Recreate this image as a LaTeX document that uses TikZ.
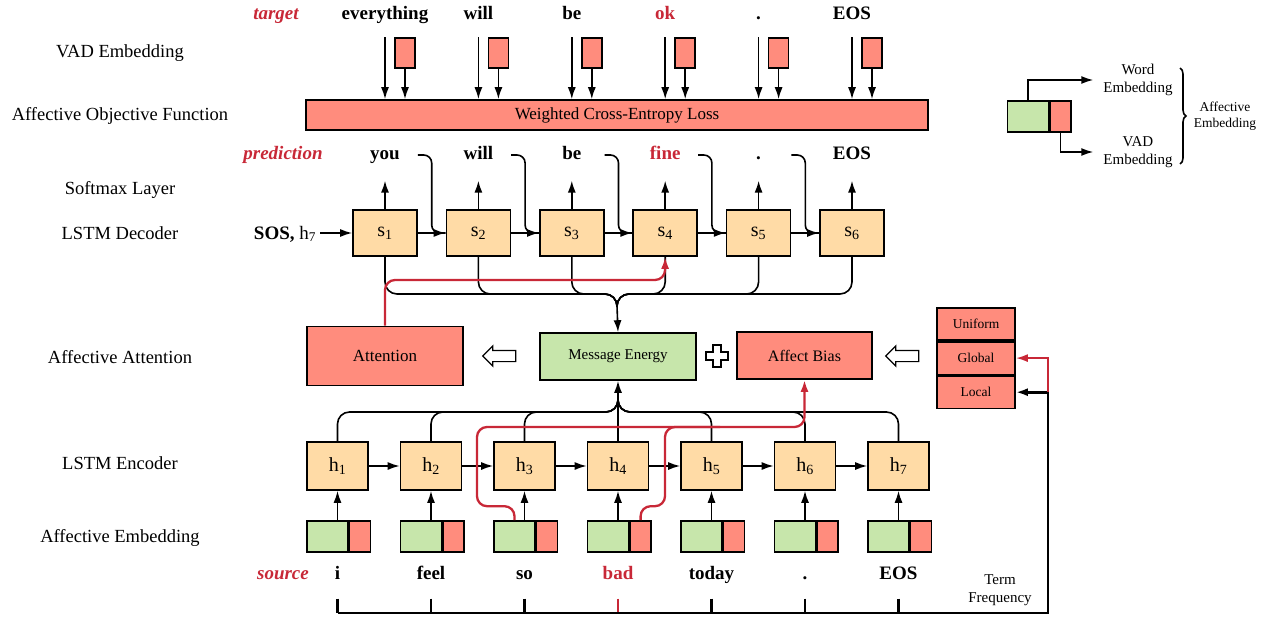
\documentclass[tikz,border=0pt]{standalone}
\usepackage{fontspec}
\setmainfont{Liberation Serif}
\usetikzlibrary{arrows.meta}
\usetikzlibrary{positioning}
\usetikzlibrary{calc}
\usetikzlibrary{shapes.arrows}
\usetikzlibrary{decorations.pathreplacing}

\tikzset{
    layer/.style={font=\fontsize{18.5}{20}\selectfont},
    tok/.style={font=\fontsize{19}{20}\selectfont\bfseries, text height=13pt, text depth=4pt},
    tag/.style={tok, font=\fontsize{19}{20}\selectfont\bfseries\itshape, text=crimson},
    cell/.style={draw, fill=peach, minimum width=61pt, minimum height=48pt, font=\fontsize{20}{22}\selectfont},
    vadbox/.style={draw, fill=salmon, minimum width=20pt, minimum height=30pt, inner sep=0pt},
    wordpart/.style={draw, fill=leaf, minimum width=41pt, minimum height=31pt, inner sep=0pt},
    vadpart/.style={draw, fill=salmon, minimum width=21pt, minimum height=31pt, inner sep=0pt},
    block/.style={draw, inner sep=0pt},
    scheme/.style={block, fill=salmon, minimum width=78pt, minimum height=32.5pt, font=\fontsize{13.5}{16}\selectfont},
    note/.style={align=center, font=\fontsize{15}{18}\selectfont},
    hollow/.style={single arrow, draw, fill=white, line width=1.2pt, minimum height=33pt,
        inner xsep=0pt, inner ysep=5pt, single arrow head extend=4.5pt, shape border rotate=180},
    bus/.style={rounded corners=12pt},
    redpath/.style={crimson, line width=2.3pt, rounded corners=10pt},
}

\begin{document}
\begin{tikzpicture}[x=1pt, y=-1pt, line width=1.6pt, >={Latex[length=12pt,width=8pt]}]
    % colours
    \definecolor{salmon}{RGB}{255,140,125}
    \definecolor{leaf}{RGB}{199,230,171}
    \definecolor{peach}{RGB}{255,219,166}
    \definecolor{crimson}{RGB}{200,40,55}

    \useasboundingbox (0,0) rectangle (1270,618);

    % layer names
    \node[layer] (lvad)  at (120,53.5)  {VAD Embedding};
    \node[layer] (lobj)  at (120,116) {Affective Objective Function};
    \node[layer] (lsoft) at (120,189.5) {Softmax Layer};
    \node[layer] (ldec)  at (120,233) {LSTM Decoder};
    \node[layer] (latt)  at (120,357) {Affective Attention};
    \node[layer] (lenc)  at (120,463) {LSTM Encoder};
    \node[layer] (lemb)  at (120,537.5) {Affective Embedding};

    % target and objective
    \node[tag] (target) at (276,15) {target};
    \node[block, fill=salmon, minimum width=622pt, minimum height=30pt,
          font=\fontsize{17}{20}\selectfont] (loss) at (617,115) {Weighted Cross-Entropy Loss};
    \foreach \w/\c [count=\i] in {everything/black, will/black, be/black, ok/crimson, ./black, EOS/black} {
        \pgfmathsetmacro{\x}{291.6+93.4*\i}
        \node[tok, text=\c] (t\i) at (\x,15) {\w};
        \node[vadbox] (v\i) at (\x+20,53) {};
        \draw[->] (v\i.north -| t\i) -- (t\i |- loss.north);
        \draw[->] (v\i.south) -- (v\i.south |- loss.north);
    }

    % decoder
    \node[tag] (pred) at (283,155) {prediction};
    \foreach \w/\c [count=\i] in {you/black, will/black, be/black, fine/crimson, ./black, EOS/black} {
        \pgfmathsetmacro{\x}{291.6+93.4*\i}
        \node[tok, text=\c] (p\i) at (\x,155) {\w};
        \node[cell, minimum width=64pt, minimum height=46pt] (s\i) at (\x,233) {s\textsubscript{\i}};
        \draw[->, shorten >=13pt] (s\i.north) -- (p\i.south);
    }
    \node[font=\fontsize{19}{20}\selectfont] (sos) at (285,234) {\textbf{SOS,} h\textsubscript{7}};
    \draw[->] (sos.east |- s1.west) -- (s1.west);
    \foreach \i [count=\j from 2] in {1,...,5} {
        \draw[->] (s\i.east) -- (s\j.west);
        \draw[rounded corners=8pt] (s\i.east |- p\i) -| ($(s\i.east)!0.5!(s\j.west)$) -- (s\j.west);
    }
    \coordinate (dbus) at (617,294);
    \coordinate (dtip) at (617,306);
    \foreach \i in {1,...,6}
        \draw[bus] (s\i.south) -- (s\i.south |- dbus) -- (dbus) -- (dtip);

    % attention row
    \node[block, fill=salmon, minimum width=156pt, minimum height=59pt,
          font=\fontsize{17}{20}\selectfont] (att) at (385,356) {Attention};
    \node[block, fill=leaf, minimum width=156pt, minimum height=47pt,
          font=\fontsize{15}{18}\selectfont] (me) at (618,356.5) {Message Energy};
    \node[block, fill=salmon, minimum width=135pt, minimum height=47pt,
          font=\fontsize{16}{18}\selectfont] (ab) at (804.5,355.5) {Affect Bias};
    \node[hollow] (ar1) at (502,356) {};
    \node[hollow] (ar2) at (905,356) {};
    \draw[fill=white, line width=1.2pt] (713,345) -- (721,345) -- (721,352) -- (728,352) -- (728,360)
        -- (721,360) -- (721,367) -- (713,367) -- (713,360) -- (706,360) -- (706,352) -- (713,352) -- cycle;
    \node[scheme] (uni) at (976,324) {Uniform};
    \node[scheme, below=0pt of uni] (glob) {Global};
    \node[scheme, below=0pt of glob] (loc) {Local};

    \draw[->] (dtip) -- (me.north);
    \coordinate (redturn) at (665,280);
    \draw[->, redpath] (att.north) |- (redturn) -- (s4.south);

    % encoder
    \coordinate (base) at (1048,613);
    \node[tag] (source) at (283,575) {source};
    \foreach \w/\c [count=\i] in {i/black, feel/black, so/black, bad/crimson, today/black, ./black, EOS/black} {
        \pgfmathsetmacro{\x}{244+93.5*\i}
        \node[cell] (h\i) at (\x,466) {h\textsubscript{\i}};
        \node[wordpart] (g\i) at (\x-10,536.5) {};
        \node[vadpart, right=0pt of g\i] (r\i) {};
        \draw[->] (g\i.north -| h\i) -- (h\i.south);
        \node[tok, text=\c] (w\i) at (\x,575) {\w};
        \draw[\c, line width=2.4pt] ([yshift=-11pt]w\i.south) -- (w\i |- base);
    }
    \foreach \i [count=\j from 2] in {1,...,6}
        \draw[->] (h\i.east) -- (h\j.west);
    \coordinate (ebus) at (618,412);
    \coordinate (etip) at (618,400);
    \foreach \i in {1,2,3,5,6,7}
        \draw[bus] (h\i.north) -- (h\i.north |- ebus) -- (ebus) -- (etip);
    \draw[->] (h4.north) -- (me.south);

    % affect routes
    \draw[->, redpath] (g3.north) -- ++(0,-14) -| (477,427) -| (ab.south);
    \draw[redpath] (r4.north) -- ++(0,-14) -| (665,427) -- (720,427);

    % term frequency
    \draw[->, line width=2.8pt] (w1 |- base) -- (base) |- (loc.east);
    \draw[->, crimson, line width=2pt] (base |- loc.east) |- (glob.east);
    \node[note] (tf) at (1000,590) {Term\\Frequency};

    % legend
    \node[wordpart] (lg) at (1028,116.5) {};
    \node[vadpart, right=0pt of lg] (lr) {};
    \node[note] (lw) at (1138,80) {Word\\Embedding};
    \node[note] (lv) at (1138,152) {VAD\\Embedding};
    \draw[->, shorten >=6pt] (lg.north) |- (lw.west);
    \draw[->, shorten >=6pt] (lr.south) |- (lv.west);
    \draw[decorate, decoration={brace, amplitude=6pt}] (1180,68) -- (1180,164);
    \node[note, font=\fontsize{13.5}{16}\selectfont] (lae) at (1225,116) {Affective\\Embedding};

\end{tikzpicture}
\end{document}
